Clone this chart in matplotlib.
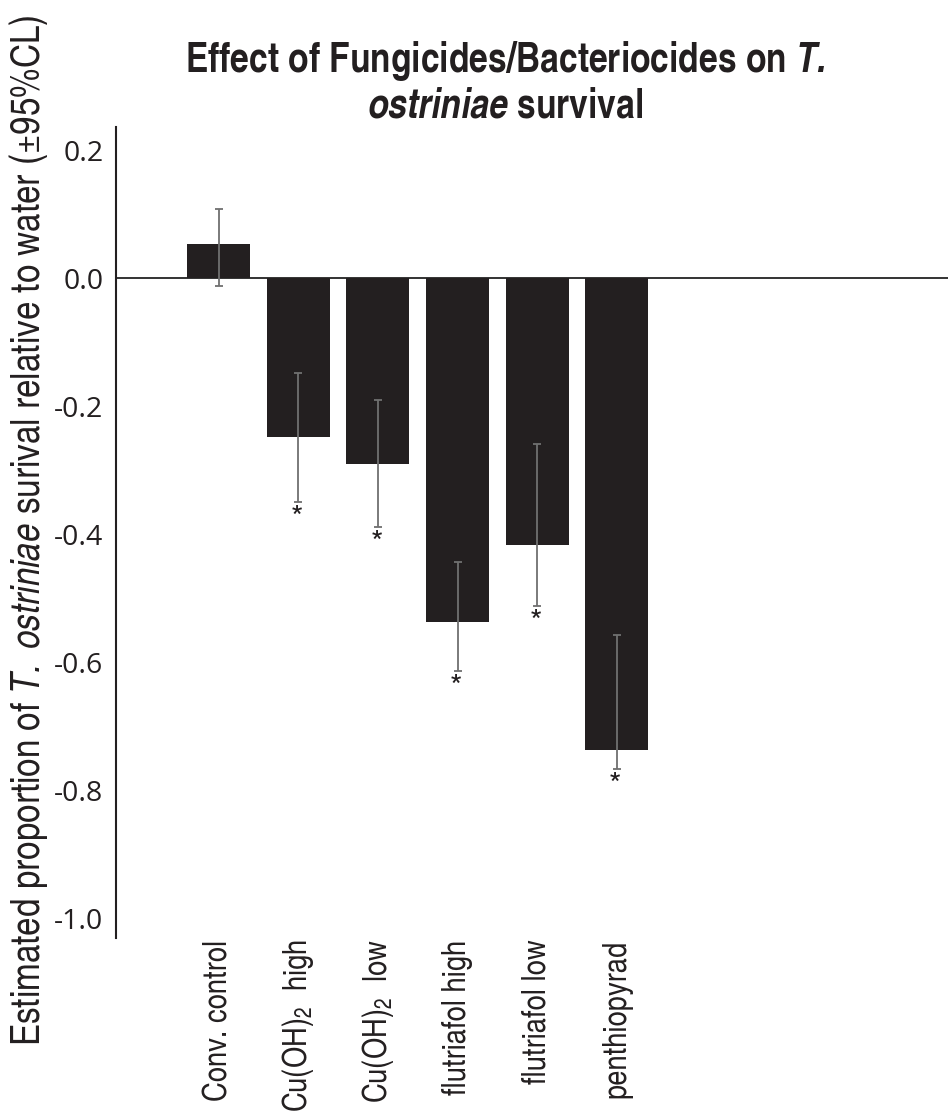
import matplotlib
matplotlib.use("Agg")
import matplotlib.pyplot as plt
import numpy as np

categories = ["Conv. control", r"Cu(OH)$_2$  high", r"Cu(OH)$_2$  low",
              "flutriafol high", "flutriafol low", "penthiopyrad"]
estimates = [0.053, -0.248, -0.290, -0.538, -0.417, -0.738]
ci_upper = [0.108, -0.148, -0.190, -0.444, -0.259, -0.558]
ci_lower = [-0.013, -0.350, -0.389, -0.614, -0.513, -0.767]
significant = [False, True, True, True, True, True]
yticks = [0.2, 0.0, -0.2, -0.4, -0.6, -0.8, -1.0]

COND = "TeX Gyre Heros Cn"
plt.rcParams["mathtext.fontset"] = "custom"
plt.rcParams["mathtext.rm"] = COND
plt.rcParams["mathtext.it"] = COND + ":italic"
plt.rcParams["mathtext.sf"] = COND + ":italic"
plt.rcParams["mathtext.bf"] = COND + ":italic:bold"

W, H = 948, 1113
fig = plt.figure(figsize=(W / 100, H / 100), dpi=100)
ax = fig.add_axes([116/W, 1 - 938/H, 1 - 116/W, (938 - 127)/H])

x = np.arange(len(categories))
est = np.array(estimates)
err = np.array([est - np.array(ci_lower), np.array(ci_upper) - est])
ax.bar(x, est, width=0.79, color="#231f20", zorder=2)
ax.errorbar(x, est, yerr=err, fmt="none", ecolor="#707070", elinewidth=1.3,
            capsize=3.2, capthick=1.3, zorder=3)
ax.axhline(0, color="#333333", lw=1.4, zorder=1)

for xi, lo, sig in zip(x, ci_lower, significant):
    if sig:
        ax.annotate("*", (xi, lo), xytext=(-1, -2), textcoords="offset points",
                    ha="center", va="top", fontsize=23, family="TeX Gyre Heros",
                    color="#231f20")

ax.set_xlim(-1.29, 9.16)
ax.set_ylim(-1.031, 0.236)
ax.set_yticks(yticks)
ax.set_yticklabels([f"{v:.1f}" for v in yticks], family="Open Sans", fontsize=20.5,
                   color="#231f20")
ax.set_xticks(x)
ax.set_xticklabels(categories, rotation=90, family=COND, fontsize=24,
                   va="top", ha="center", color="#231f20")
ax.tick_params(axis="both", length=0)
ax.tick_params(axis="y", pad=9)
ax.tick_params(axis="x", pad=1)
for s in ["top", "right", "bottom"]:
    ax.spines[s].set_visible(False)
ax.spines["left"].set_linewidth(1.5)
ax.spines["left"].set_color("#231f20")

fig.text(29/W, 1 - 530/H,
         r"Estimated proportion of $\mathsf{T.\ ostriniae}$ surival relative to water (±95%CL)",
         rotation=90, ha="center", va="center", family=COND, fontsize=29.2,
         color="#231f20")

fig.text(505/W, 1 - 72/H,
         "Effect of Fungicides/Bacteriocides on $\\mathbf{T.}$",
         ha="center", va="baseline", family=COND,
         fontweight="bold", fontsize=29.5, color="#231f20")
fig.text(505/W, 1 - 118/H,
         "$\\mathbf{ostriniae}$ survival",
         ha="center", va="baseline", family=COND,
         fontweight="bold", fontsize=29.5, color="#231f20")

fig.savefig("out.png", dpi=100)
